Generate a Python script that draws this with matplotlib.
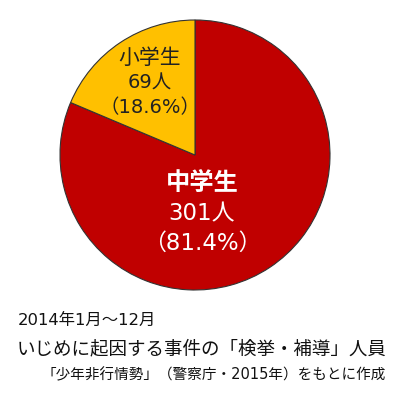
import matplotlib
matplotlib.use("Agg")
import matplotlib.pyplot as plt

plt.rcParams['font.family'] = ['Noto Sans CJK JP', 'DejaVu Sans']
MIX = ['DejaVu Sans', 'Noto Sans CJK JP']

labels = ["中学生", "小学生"]
counts = [301, 69]
shares = ["81.4%", "18.6%"]
colors = ["#C00000", "#FFC000"]

fig = plt.figure(figsize=(4.02, 3.97), dpi=100)
W, H = 402, 397
cx, cy, r = 195, 155, 135
ax = fig.add_axes([(cx - r) / W, 1 - (cy + r) / H, 2 * r / W, 2 * r / H])
ax.pie(counts, colors=colors, startangle=90, counterclock=False,
       wedgeprops=dict(edgecolor="#333333", linewidth=0.8))
ax.set_xlim(-1, 1)
ax.set_ylim(-1, 1)
ax.set_aspect("equal")

def fy(y):
    return 1 - y / H

# 小学生
fig.text(150 / W, fy(58), labels[1], ha="center", va="center", fontsize=15, color="#222222")
fig.text(150 / W, fy(83), f"{counts[1]}人", ha="center", va="center", fontsize=14, color="#222222", family=MIX)
fig.text(150 / W, fy(108), f"（{shares[1]}）", ha="center", va="center", fontsize=14, color="#222222", family=MIX)

# 中学生
fig.text(202 / W, fy(183), labels[0], ha="center", va="center", fontsize=17.5, color="white", fontweight="bold")
fig.text(202 / W, fy(214), f"{counts[0]}人", ha="center", va="center", fontsize=16.5, color="white", family=MIX)
fig.text(202 / W, fy(243), f"（{shares[0]}）", ha="center", va="center", fontsize=16.5, color="white", family=MIX)

fig.text(18 / W, fy(320), "2014年1月～12月", ha="left", va="center", fontsize=11.8, color="#111111", family=MIX)
fig.text(17 / W, fy(349), "いじめに起因する事件の「検挙・補導」人員", ha="left", va="center", fontsize=13.3, color="#111111")
fig.text(386 / W, fy(375), "「少年非行情勢」（警察庁・2015年）をもとに作成", ha="right", va="center", fontsize=10.5, color="#111111", family=MIX)

fig.savefig("out.png", dpi=100)
plt.close(fig)
